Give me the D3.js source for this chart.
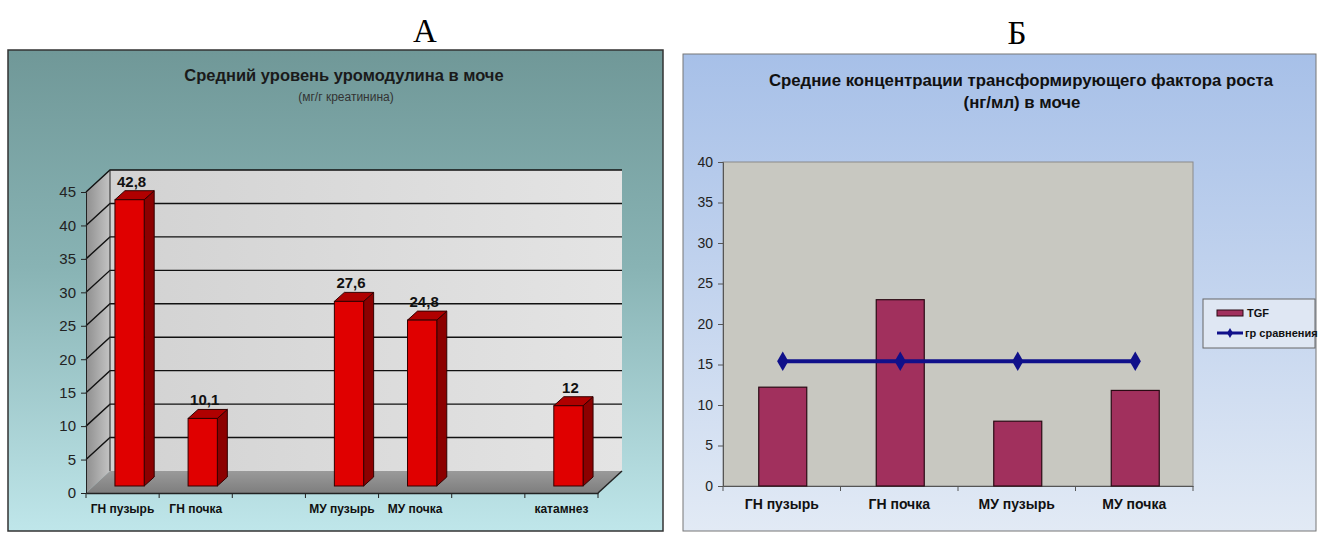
<!DOCTYPE html>
<html lang="ru">
<head>
    <meta charset="UTF-8">
    <title>Уромодулин и TGF</title>
    <script src="https://cdnjs.cloudflare.com/ajax/libs/d3/7.8.5/d3.min.js"></script>
    <style>
        body { margin: 0; background: #fff; }
        svg { display: block; }
        .narrow { font-family: "Liberation Sans Narrow", "Arial Narrow", "Liberation Sans", Arial, sans-serif; }
        .sans { font-family: "Liberation Sans", Arial, sans-serif; }
    </style>
</head>
<body>
    <div id="chart"></div>
    <script>
        // данные, панель А
        const catsA = ['ГН пузырь', 'ГН почка', '', 'МУ пузырь', 'МУ почка', '', 'катамнез'];
        const valsA = [42.8, 10.1, null, 27.6, 24.8, null, 12];
        const ticksA = [0, 5, 10, 15, 20, 25, 30, 35, 40, 45];

        // данные, панель Б
        const catsB = ['ГН пузырь', 'ГН почка', 'МУ пузырь', 'МУ почка'];
        const tgf = [12.2, 23, 8, 11.8];
        const sravn = [15.4, 15.4, 15.4, 15.4];
        const ticksB = [0, 5, 10, 15, 20, 25, 30, 35, 40];

        const width = 1321, height = 533;
        const svg = d3.select('#chart').append('svg')
            .attr('width', width)
            .attr('height', height);

        const defs = svg.append('defs');
        function grad(id, stops, x2, y2) {
            const g = defs.append('linearGradient').attr('id', id)
                .attr('x1', 0).attr('y1', 0).attr('x2', x2).attr('y2', y2);
            stops.forEach(s => g.append('stop').attr('offset', s[0]).attr('stop-color', s[1]));
        }
        grad('bgA', [[0, '#709898'], [0.45, '#88b3b4'], [1, '#bfe6ea']], 0, 1);
        grad('bgB', [[0, '#a7c0e8'], [0.5, '#c3d4ee'], [1, '#e2eaf5']], 0, 1);
        grad('wallA', [[0, '#d2d2d2'], [1, '#e4e4e4']], 1, 0);
        grad('sideA', [[0, '#8f8f8f'], [1, '#c4c4c4']], 1, 0);
        grad('floorA', [[0, '#9a9a9a'], [1, '#7e7e7e']], 0, 1);

        const locale = d3.formatLocale({ decimal: ',', thousands: ' ', grouping: [3], currency: ['', ''] });
        const fmt = locale.format('~g');

        // буквы над панелями
        svg.append('text').attr('x', 425).attr('y', 42).attr('text-anchor', 'middle')
            .attr('font-family', '"Liberation Serif", "Times New Roman", serif').attr('font-size', 33)
            .text('А');
        svg.append('text').attr('x', 1017).attr('y', 44).attr('text-anchor', 'middle')
            .attr('font-family', '"Liberation Serif", "Times New Roman", serif').attr('font-size', 33)
            .text('Б');

        // ===== Панель А (псевдо-3D) =====
        const gA = svg.append('g');
        gA.append('rect').attr('x', 8).attr('y', 50).attr('width', 655).attr('height', 481)
            .attr('fill', 'url(#bgA)').attr('stroke', '#333').attr('stroke-width', 1.5);

        gA.append('text').attr('class', 'sans').attr('x', 344).attr('y', 81)
            .attr('text-anchor', 'middle').attr('font-weight', 'bold').attr('font-size', 16.5)
            .attr('fill', '#1a1a1a').text('Средний уровень уромодулина в моче');
        gA.append('text').attr('class', 'narrow').attr('x', 346).attr('y', 101)
            .attr('text-anchor', 'middle').attr('font-size', 12).attr('fill', '#333')
            .text('(мг/г креатинина)');

        const dx = 24, dy = -22; // глубина
        const xA = d3.scaleBand().domain(d3.range(catsA.length)).range([86, 598]);
        const yA = d3.scaleLinear().domain([0, 45]).range([493, 192]);
        const bw = xA.bandwidth();

        // левая стенка, задняя стенка, пол
        gA.append('path').attr('fill', 'url(#sideA)')
            .attr('d', `M${86},${yA(45)}L${86 + dx},${yA(45) + dy}L${86 + dx},${yA(0) + dy}L${86},${yA(0)}Z`);
        gA.append('rect').attr('x', 86 + dx).attr('y', yA(45) + dy)
            .attr('width', 598 - 86).attr('height', yA(0) - yA(45)).attr('fill', 'url(#wallA)');
        gA.append('path').attr('fill', 'url(#floorA)')
            .attr('d', `M86,${yA(0)}L598,${yA(0)}L${598 + dx},${yA(0) + dy}L${86 + dx},${yA(0) + dy}Z`);

        // линии сетки
        ticksA.filter(t => t > 0).forEach(t => {
            gA.append('path').attr('fill', 'none').attr('stroke', '#111').attr('stroke-width', 1.4)
                .attr('d', `M86,${yA(t)}L${86 + dx},${yA(t) + dy}L${598 + dx},${yA(t) + dy}`);
        });
        gA.append('path').attr('fill', 'none').attr('stroke', '#222').attr('stroke-width', 1)
            .attr('d', `M${86 + dx},${yA(0) + dy}L${86 + dx},${yA(45) + dy}`);

        // оси
        const axisYA = gA.append('g').attr('transform', 'translate(86,0)')
            .call(d3.axisLeft(yA).tickValues(ticksA).tickSize(5).tickPadding(5));
        axisYA.selectAll('text').attr('class', 'narrow').attr('font-size', 15).attr('fill', '#222');
        axisYA.selectAll('line, path').attr('stroke', '#222');

        const axisXA = gA.append('g').attr('transform', `translate(0,${yA(0)})`)
            .call(d3.axisBottom(xA).tickSize(0).tickPadding(11).tickFormat(i => catsA[i]));
        axisXA.select('.domain').attr('stroke', '#222').attr('stroke-width', 1.5);
        axisXA.selectAll('text').attr('class', 'narrow').attr('font-size', 12)
            .attr('font-weight', 'bold').attr('fill', '#111');
        gA.append('path').attr('stroke', '#222').attr('stroke-width', 1.5).attr('fill', 'none')
            .attr('d', `M598,${yA(0)}L${598 + dx},${yA(0) + dy}`);
        gA.selectAll('.xtickA').data(d3.range(catsA.length + 1)).enter().append('line')
            .attr('x1', i => 86 + i * bw).attr('x2', i => 86 + i * bw)
            .attr('y1', yA(0)).attr('y2', yA(0) + 5).attr('stroke', '#222');

        // столбики
        const off = 7, depX = 10, depY = -9, barW = bw * 0.4;
        const barsA = gA.selectAll('.barA')
            .data(valsA.map((v, i) => ({ v, i })).filter(d => d.v !== null))
            .enter().append('g').attr('class', 'barA');
        barsA.each(function (d) {
            const g = d3.select(this);
            const x0 = xA(d.i) + bw * 0.3 + off;
            const y0 = yA(0) - off, y1 = yA(d.v) - off;
            g.append('path').attr('fill', '#8c0000').attr('stroke', '#300').attr('stroke-width', 1)
                .attr('d', `M${x0 + barW},${y1}L${x0 + barW + depX},${y1 + depY}L${x0 + barW + depX},${y0 + depY}L${x0 + barW},${y0}Z`);
            g.append('path').attr('fill', '#b00000').attr('stroke', '#300').attr('stroke-width', 1)
                .attr('d', `M${x0},${y1}L${x0 + depX},${y1 + depY}L${x0 + barW + depX},${y1 + depY}L${x0 + barW},${y1}Z`);
            g.append('rect').attr('x', x0).attr('y', y1).attr('width', barW).attr('height', y0 - y1)
                .attr('fill', '#e00000').attr('stroke', '#300').attr('stroke-width', 1);
            g.append('text').attr('class', 'narrow').attr('x', x0 + barW / 2 + 2).attr('y', y1 + depY - 4)
                .attr('text-anchor', 'middle').attr('font-weight', 'bold').attr('font-size', 15)
                .attr('fill', '#111').text(fmt(d.v));
        });

        // ===== Панель Б =====
        const gB = svg.append('g');
        gB.append('rect').attr('x', 683).attr('y', 54).attr('width', 633).attr('height', 477)
            .attr('fill', 'url(#bgB)').attr('stroke', '#777').attr('stroke-width', 1);

        gB.append('text').attr('class', 'sans').attr('x', 1021).attr('y', 86)
            .attr('text-anchor', 'middle').attr('font-weight', 'bold').attr('font-size', 16.8)
            .attr('fill', '#111').text('Средние концентрации трансформирующего фактора роста');
        gB.append('text').attr('class', 'sans').attr('x', 1022).attr('y', 108)
            .attr('text-anchor', 'middle').attr('font-weight', 'bold').attr('font-size', 16.8)
            .attr('fill', '#111').text('(нг/мл) в моче');

        const xB = d3.scaleBand().domain(catsB).range([723, 1193]);
        const yB = d3.scaleLinear().domain([0, 40]).range([486, 162]);

        gB.append('rect').attr('x', 723).attr('y', yB(40)).attr('width', 1193 - 723)
            .attr('height', yB(0) - yB(40)).attr('fill', '#c8c8c1').attr('stroke', '#8a8a8a');

        const axisYB = gB.append('g').attr('transform', 'translate(723,0)')
            .call(d3.axisLeft(yB).tickValues(ticksB).tickSize(5).tickPadding(5));
        axisYB.selectAll('text').attr('class', 'sans').attr('font-size', 14).attr('fill', '#222');
        axisYB.selectAll('line, path').attr('stroke', '#555');

        const axisXB = gB.append('g').attr('transform', `translate(0,${yB(0)})`)
            .call(d3.axisBottom(xB).tickSize(0).tickPadding(13));
        axisXB.select('.domain').attr('stroke', '#555');
        axisXB.selectAll('text').attr('class', 'sans').attr('font-size', 14)
            .attr('font-weight', 'bold').attr('fill', '#111');
        gB.selectAll('.xtickB').data(d3.range(catsB.length + 1)).enter().append('line')
            .attr('x1', i => 723 + i * xB.bandwidth()).attr('x2', i => 723 + i * xB.bandwidth())
            .attr('y1', yB(0)).attr('y2', yB(0) + 5).attr('stroke', '#555');

        const barWB = 48;
        gB.selectAll('.barB').data(catsB).enter().append('rect')
            .attr('x', (d) => xB(d) + xB.bandwidth() / 2 - barWB / 2 + 1)
            .attr('y', (d, i) => yB(tgf[i]))
            .attr('width', barWB)
            .attr('height', (d, i) => yB(0) - yB(tgf[i]))
            .attr('fill', '#a1305d').attr('stroke', '#2a0a14').attr('stroke-width', 1.2);

        const line = d3.line().x((d, i) => xB(catsB[i]) + xB.bandwidth() / 2 + 1).y(d => yB(d));
        gB.append('path').datum(sravn).attr('d', line)
            .attr('fill', 'none').attr('stroke', '#10108a').attr('stroke-width', 4);
        const diamond = d3.symbol().type(d3.symbolDiamond).size(110);
        gB.selectAll('.pt').data(sravn).enter().append('path')
            .attr('d', diamond)
            .attr('transform', (d, i) => `translate(${xB(catsB[i]) + xB.bandwidth() / 2 + 1},${yB(d)})`)
            .attr('fill', '#10108a');

        // легенда
        const lg = gB.append('g').attr('transform', 'translate(1203,299)');
        lg.append('rect').attr('width', 112).attr('height', 49)
            .attr('fill', '#dfe7f3').attr('stroke', '#666');
        lg.append('rect').attr('x', 14).attr('y', 11).attr('width', 26).attr('height', 6)
            .attr('fill', '#a1305d').attr('stroke', '#2a0a14').attr('stroke-width', 1);
        lg.append('text').attr('class', 'narrow').attr('x', 44).attr('y', 18)
            .attr('font-size', 11).attr('font-weight', 'bold').attr('fill', '#111').text('TGF');
        lg.append('line').attr('x1', 14).attr('x2', 40).attr('y1', 34).attr('y2', 34)
            .attr('stroke', '#10108a').attr('stroke-width', 3);
        lg.append('path').attr('d', d3.symbol().type(d3.symbolDiamond).size(30))
            .attr('transform', 'translate(27,34)').attr('fill', '#10108a');
        lg.append('text').attr('class', 'narrow').attr('x', 42).attr('y', 38)
            .attr('font-size', 11).attr('font-weight', 'bold').attr('fill', '#111').text('гр сравнения');
    </script>
</body>
</html>
